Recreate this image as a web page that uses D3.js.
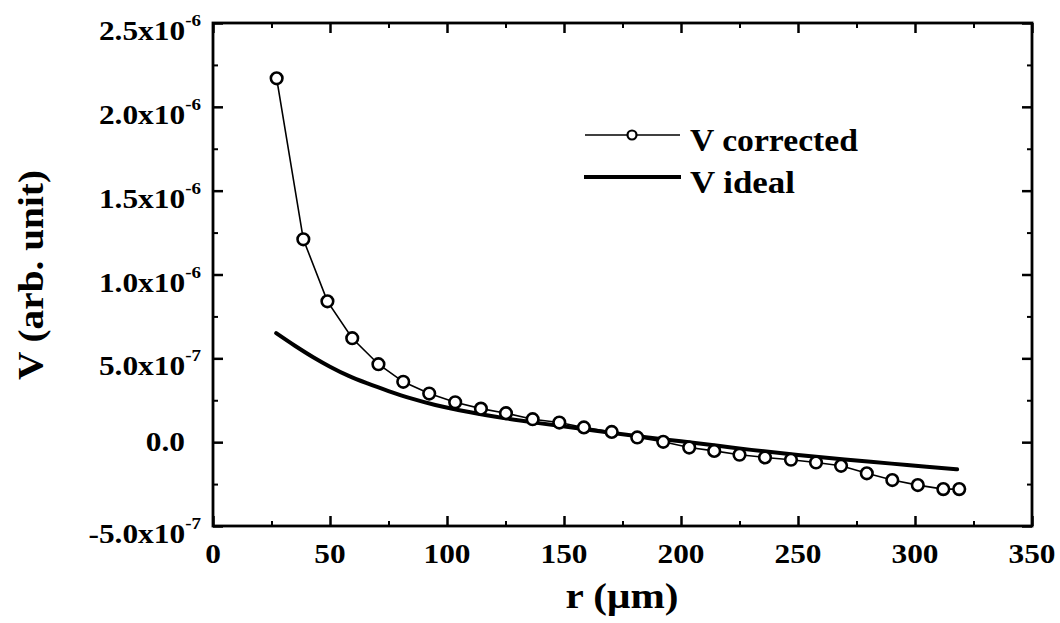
<!DOCTYPE html>
<html><head><meta charset="utf-8">
<script src="https://cdn.jsdelivr.net/npm/d3@7"></script>
<style>
body{margin:0;background:#fff}
</style>
</head><body>
<svg id="chart" width="1060" height="623"></svg>
<script>
// ---- data ----
const rCorrected = [27.2,38.6,48.9,59.5,70.7,81.3,92.4,103.5,114.5,125.2,136.6,148.0,158.5,170.4,181.3,192.4,203.5,214.2,225.0,235.9,247.0,257.7,268.4,279.4,290.3,301.2,312.1,318.9];
const vCorrected = [2.17e-6,1.21e-6,0.84e-6,0.62e-6,0.465e-6,0.36e-6,0.29e-6,0.238e-6,0.20e-6,0.173e-6,0.137e-6,0.117e-6,0.088e-6,0.061e-6,0.028e-6,0.002e-6,-0.032e-6,-0.052e-6,-0.075e-6,-0.091e-6,-0.105e-6,-0.121e-6,-0.141e-6,-0.186e-6,-0.226e-6,-0.256e-6,-0.28e-6,-0.28e-6];
const rIdeal = [27,35,43,50,58,66,75,85,95,110,125,140,155,170,185,200,215,230,250,270,290,305,318];
const vIdeal = [0.65e-6,0.575e-6,0.505e-6,0.45e-6,0.395e-6,0.35e-6,0.305e-6,0.26e-6,0.222e-6,0.178e-6,0.142e-6,0.112e-6,0.085e-6,0.056e-6,0.03e-6,0.005e-6,-0.02e-6,-0.046e-6,-0.077e-6,-0.104e-6,-0.128e-6,-0.147e-6,-0.162e-6];
const xTicks = [0,50,100,150,200,250,300,350];
const xTickLabels = ["0","50","100","150","200","250","300","350"];
const xMinor = [25,75,125,175,225,275,325];
const yTicks = [-0.5e-6,0,0.5e-6,1.0e-6,1.5e-6,2.0e-6,2.5e-6];
const yTickBase = ["-5.0x10","0.0","5.0x10","1.0x10","1.5x10","2.0x10","2.5x10"];
const yTickExp  = ["-7","","-7","-6","-6","-6","-6"];
const yMinor = [-0.25e-6,0.25e-6,0.75e-6,1.25e-6,1.75e-6,2.25e-6];
const seriesNames = ["V corrected","V ideal"];
const xTitle = "r (\u03BCm)";
const yTitle = "V (arb. unit)";

// ---- layout ----
const svg = d3.select("#chart");
const L=213, R=1032, T=23, B=526;
const x = d3.scaleLinear().domain([0,350]).range([L,R]);
const y = d3.scaleLinear().domain([-0.5e-6,2.5e-6]).range([B,T]);
const SX = 1.12;

function ax(gen, tx, ty, vals, size, sw){
  const g = svg.append("g").attr("transform",`translate(${tx},${ty})`)
    .call(gen.tickValues(vals).tickSize(size).tickFormat(""));
  g.select(".domain").remove();
  g.selectAll("line").attr("stroke","#000").attr("stroke-width",sw);
}
ax(d3.axisBottom(x),0,B,xTicks,-10,2.5);
ax(d3.axisBottom(x),0,B,xMinor,-5,2);
ax(d3.axisTop(x),0,T,xTicks,-10,2.5);
ax(d3.axisTop(x),0,T,xMinor,-5,2);
ax(d3.axisLeft(y),L,0,yTicks,-10,2.5);
ax(d3.axisLeft(y),L,0,yMinor,-5,2);
ax(d3.axisRight(y),R,0,yTicks,-10,2.5);
ax(d3.axisRight(y),R,0,yMinor,-5,2);

svg.append("rect").attr("x",L).attr("y",T).attr("width",R-L).attr("height",B-T)
  .attr("fill","none").attr("stroke","#000").attr("stroke-width",2.8);

function txt(){ return svg.append("text").attr("font-family","Liberation Serif").attr("font-weight","bold").attr("fill","#000"); }

// x tick labels
xTicks.forEach((v,i)=>{
  txt().attr("transform",`translate(${x(v)},563) scale(${SX},1)`)
    .attr("text-anchor","middle").attr("font-size",28).text(xTickLabels[i]);
});
// y tick labels
yTicks.forEach((v,i)=>{
  const ty = y(v);
  if(yTickExp[i]===""){
    txt().attr("transform",`translate(185,${ty+9}) scale(${SX},1)`)
      .attr("text-anchor","end").attr("font-size",28).text(yTickBase[i]);
  } else {
    const t = txt().attr("transform",`translate(201,${ty+17}) scale(${SX},1)`)
      .attr("text-anchor","end").attr("font-size",28);
    t.append("tspan").text(yTickBase[i]);
    t.append("tspan").attr("dy",-14).attr("font-size",17).text(yTickExp[i]);
  }
});

// axis titles
txt().attr("x",622).attr("y",608).attr("text-anchor","middle")
  .attr("font-size",35).attr("textLength",113).attr("lengthAdjust","spacingAndGlyphs").text(xTitle);
txt().attr("transform","translate(43,275) rotate(-90)").attr("text-anchor","middle")
  .attr("font-size",35).attr("textLength",210).attr("lengthAdjust","spacingAndGlyphs").text(yTitle);

// data
const ideal = rIdeal.map((r,i)=>[r,vIdeal[i]]);
const corr = rCorrected.map((r,i)=>[r,vCorrected[i]]);
svg.append("path").attr("d",d3.line().x(d=>x(d[0])).y(d=>y(d[1])).curve(d3.curveMonotoneX)(ideal))
  .attr("fill","none").attr("stroke","#000").attr("stroke-width",4).attr("stroke-linecap","round");
svg.append("path").attr("d",d3.line().x(d=>x(d[0])).y(d=>y(d[1]))(corr))
  .attr("fill","none").attr("stroke","#000").attr("stroke-width",1.6);
svg.selectAll("circle.pt").data(corr).enter().append("circle").attr("class","pt")
  .attr("cx",d=>x(d[0])).attr("cy",d=>y(d[1])).attr("r",5.8)
  .attr("fill","#fff").attr("stroke","#000").attr("stroke-width",2.6);

// legend
svg.append("line").attr("x1",585).attr("x2",680).attr("y1",135).attr("y2",135).attr("stroke","#000").attr("stroke-width",1.6);
svg.append("circle").attr("cx",632).attr("cy",135).attr("r",4.5).attr("fill","#fff").attr("stroke","#000").attr("stroke-width",2.2);
txt().attr("x",690).attr("y",151).attr("font-size",31)
  .attr("textLength",168).attr("lengthAdjust","spacingAndGlyphs").text(seriesNames[0]);
svg.append("line").attr("x1",584).attr("x2",681).attr("y1",177).attr("y2",177).attr("stroke","#000").attr("stroke-width",4);
txt().attr("x",690).attr("y",193).attr("font-size",31)
  .attr("textLength",105).attr("lengthAdjust","spacingAndGlyphs").text(seriesNames[1]);
</script>
</body></html>
